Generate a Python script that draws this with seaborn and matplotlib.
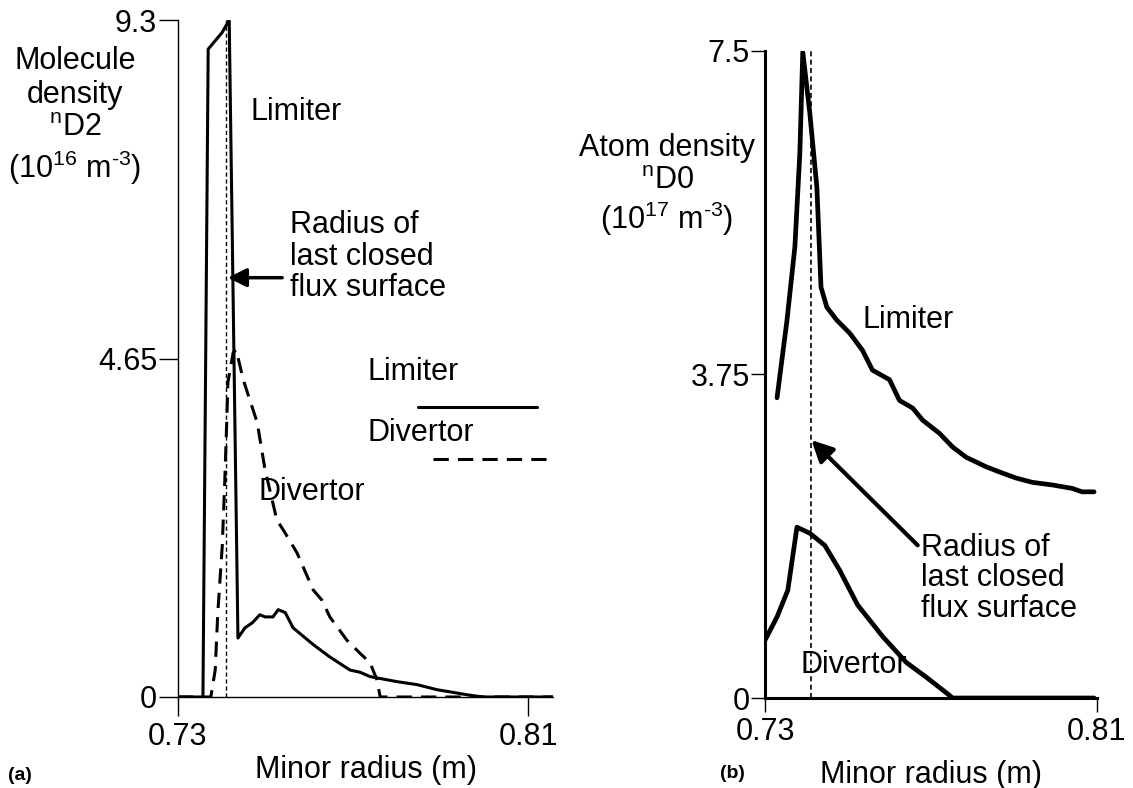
import numpy as np
import pandas as pd
import matplotlib
matplotlib.use("Agg")
import matplotlib.pyplot as plt
import seaborn as sns
from matplotlib.lines import Line2D

# ---------------- data ----------------
lcfs_radius = 0.741

# panel (a): molecule density n_D2 (1e16 m^-3)
a_lim_r = [0.730, 0.7357, 0.7369, 0.7401, 0.7417, 0.7437, 0.7453, 0.7470, 0.7487, 0.7499,
           0.7517, 0.7529, 0.7545, 0.7563, 0.7609, 0.7647, 0.7693, 0.7716, 0.7739,
           0.7801, 0.7846, 0.7892, 0.7922, 0.7961, 0.7997, 0.8157]
a_lim_v = [0.0, 0.0, 8.90, 9.13, 9.30, 0.81, 0.95, 1.02, 1.13, 1.10,
           1.10, 1.20, 1.16, 0.95, 0.72, 0.55, 0.37, 0.34, 0.28,
           0.21, 0.17, 0.10, 0.07, 0.03, 0.0, 0.0]

a_div_r = [0.730, 0.7375, 0.7385, 0.7391, 0.7401, 0.7407, 0.7412, 0.7414, 0.7426, 0.7433,
           0.7449, 0.7481, 0.7499, 0.7526, 0.7540, 0.7572, 0.7609, 0.7629, 0.7647,
           0.7686, 0.7716, 0.7739, 0.7755, 0.7762, 0.8157]
a_div_v = [0.0, 0.0, 0.37, 1.16, 2.06, 2.98, 3.90, 4.32, 4.73, 4.77,
           4.36, 3.77, 3.12, 2.43, 2.30, 1.98, 1.47, 1.33, 1.10,
           0.78, 0.60, 0.47, 0.23, 0.0, 0.0]

# panel (b): atom density n_D0 (1e17 m^-3)
b_lim_r = [0.7329, 0.7353, 0.7372, 0.7384, 0.7391, 0.7408, 0.7425, 0.7435, 0.7449, 0.7473,
           0.7504, 0.7535, 0.7559, 0.7600, 0.7624, 0.7656, 0.7680, 0.7720, 0.7752,
           0.7785, 0.7833, 0.7865, 0.7905, 0.7944, 0.7992, 0.8040, 0.8064, 0.8093]
b_lim_v = [3.48, 4.38, 5.23, 6.32, 7.49, 6.78, 5.92, 4.76, 4.53, 4.38,
           4.23, 4.03, 3.80, 3.69, 3.45, 3.36, 3.22, 3.07, 2.91,
           2.79, 2.68, 2.62, 2.55, 2.50, 2.47, 2.43, 2.39, 2.39]

b_div_r = [0.7300, 0.7329, 0.7355, 0.7377, 0.7408, 0.7444, 0.7480, 0.7523, 0.7584,
           0.7641, 0.7689, 0.7737, 0.7752, 0.8093]
b_div_v = [0.67, 0.94, 1.25, 1.98, 1.91, 1.77, 1.48, 1.08, 0.71,
           0.41, 0.24, 0.06, 0.0, 0.0]

a_yticks = [0, 4.65, 9.3]
a_ytick_labels = ["0", "4.65", "9.3"]
b_yticks = [0, 3.75, 7.5]
b_ytick_labels = ["0", "3.75", "7.5"]
xticks = [0.73, 0.81]
xtick_labels = ["0.73", "0.81"]

# ---------------- style ----------------
sns.set_theme(style="ticks")
plt.rcParams["font.family"] = ["Liberation Sans", "DejaVu Sans"]
plt.rcParams["mathtext.fontset"] = "custom"
plt.rcParams["mathtext.rm"] = "Liberation Sans"
plt.rcParams["mathtext.it"] = "Liberation Sans:italic"
plt.rcParams["mathtext.bf"] = "Liberation Sans:bold"
plt.rcParams["text.color"] = "black"
plt.rcParams["axes.labelcolor"] = "black"
plt.rcParams["xtick.color"] = "black"
plt.rcParams["ytick.color"] = "black"
FS = 22

fig = plt.figure(figsize=(11.33, 7.88), dpi=100)
axa = fig.add_axes([0.1571, 0.1155, 0.3310, 0.8591])
axb = fig.add_axes([0.6752, 0.1142, 0.2930, 0.8211])

dash_long = (0, (5, 3))

# ---- panel (a)
sns.lineplot(x=a_lim_r, y=a_lim_v, ax=axa, color="black", lw=2.2,
             sort=False, estimator=None)
sns.lineplot(x=a_div_r, y=a_div_v, ax=axa, color="black", lw=2.2,
             sort=False, estimator=None, linestyle=dash_long)
axa.axvline(lcfs_radius, color="black", lw=1.0, linestyle=(0, (3, 2)))
axa.set_xlim(0.73, 0.8157)
axa.set_ylim(0, 9.3)

# ---- panel (b)
sns.lineplot(x=b_lim_r, y=b_lim_v, ax=axb, color="black", lw=3.4,
             sort=False, estimator=None)
sns.lineplot(x=b_div_r, y=b_div_v, ax=axb, color="black", lw=3.4,
             sort=False, estimator=None)
axb.axvline(lcfs_radius, color="black", lw=1.2, linestyle=(0, (3, 2)))
axb.set_xlim(0.73, 0.81)
axb.set_ylim(0, 7.5)

for ax, yt, ytl, spw, tl in [(axa, a_yticks, a_ytick_labels, 1.0, 14),
                             (axb, b_yticks, b_ytick_labels, 2.2, 10)]:
    ax.set_facecolor("white")
    for s in ["top", "right"]:
        ax.spines[s].set_visible(False)
    ax.spines["left"].set_linewidth(spw)
    ax.spines["bottom"].set_linewidth(spw)
    ax.spines["left"].set_color("black")
    ax.spines["bottom"].set_color("black")
    ax.set_yticks(yt)
    ax.set_yticklabels(ytl)
    ax.set_xticks(xticks)
    ax.set_xticklabels(xtick_labels)
    ax.tick_params(axis="both", direction="out", length=tl, width=1.0,
                   color="black", labelsize=FS, labelcolor="black")
    ax.tick_params(axis="y", pad=1)
    ax.tick_params(axis="x", pad=4)
    ax.grid(False)

axa.set_xlabel("Minor radius (m)", fontsize=FS, va="center")
axa.xaxis.set_label_coords(0.5, -0.108)
axb.set_xlabel("Minor radius (m)", fontsize=FS, va="center")
axb.xaxis.set_label_coords(0.5, -0.119)

axa.set_ylabel("Molecule\ndensity\n$^{\\mathrm{n}}$D2\n(10$^{16}$ m$^{\\text{-3}}$)",
               rotation=0, fontsize=FS, ha="center", va="center",
               multialignment="center", linespacing=1.17)
axa.yaxis.set_label_coords(-0.275, 0.858)
axb.set_ylabel("Atom density\n$^{\\mathrm{n}}$D0\n(10$^{17}$ m$^{\\text{-3}}$)",
               rotation=0, fontsize=FS, ha="center", va="center",
               multialignment="center", linespacing=1.12)
axb.yaxis.set_label_coords(-0.295, 0.792)

# annotations panel (a)
axa.text(0.7465, 8.03, "Limiter", fontsize=FS, ha="left", va="center")
axa.text(0.7556, 6.05, "Radius of\nlast closed\nflux surface", fontsize=FS,
         ha="left", va="center", linespacing=1.07)
axa.annotate("", xy=(lcfs_radius + 0.0004, 5.76), xytext=(0.7538, 5.76),
             arrowprops=dict(arrowstyle="-|>", lw=2.5, color="black",
                             mutation_scale=28, shrinkA=0, shrinkB=0))
axa.text(0.7483, 2.82, "Divertor", fontsize=FS, ha="left", va="center")

# hand-drawn key in panel (a)
axa.text(0.7734, 4.47, "Limiter", fontsize=FS, ha="left", va="center")
axa.add_line(Line2D([0.7849, 0.8121], [3.99, 3.99], color="black", lw=2.2))
axa.text(0.7732, 3.63, "Divertor", fontsize=FS, ha="left", va="center")
axa.add_line(Line2D([0.7883, 0.8150], [3.27, 3.27], color="black", lw=2.2,
                    linestyle=dash_long))

# annotations panel (b)
axb.text(0.7535, 4.38, "Limiter", fontsize=FS, ha="left", va="center")
axb.text(0.7677, 1.39, "Radius of\nlast closed\nflux surface", fontsize=FS,
         ha="left", va="center", linespacing=1.02)
axb.annotate("", xy=(lcfs_radius + 0.0002, 2.99), xytext=(0.7668, 1.77),
             arrowprops=dict(arrowstyle="-|>", lw=3.0, color="black",
                             mutation_scale=32, shrinkA=0, shrinkB=0))
axb.text(0.7386, 0.38, "Divertor", fontsize=FS, ha="left", va="center")

fig.text(8 / 1133, 1 - 776 / 788, "(a)", fontsize=14, fontweight="bold",
         ha="left", va="center")
fig.text(720 / 1133, 1 - 774 / 788, "(b)", fontsize=14, fontweight="bold",
         ha="left", va="center")

fig.savefig("out.png", dpi=100, facecolor="white")
